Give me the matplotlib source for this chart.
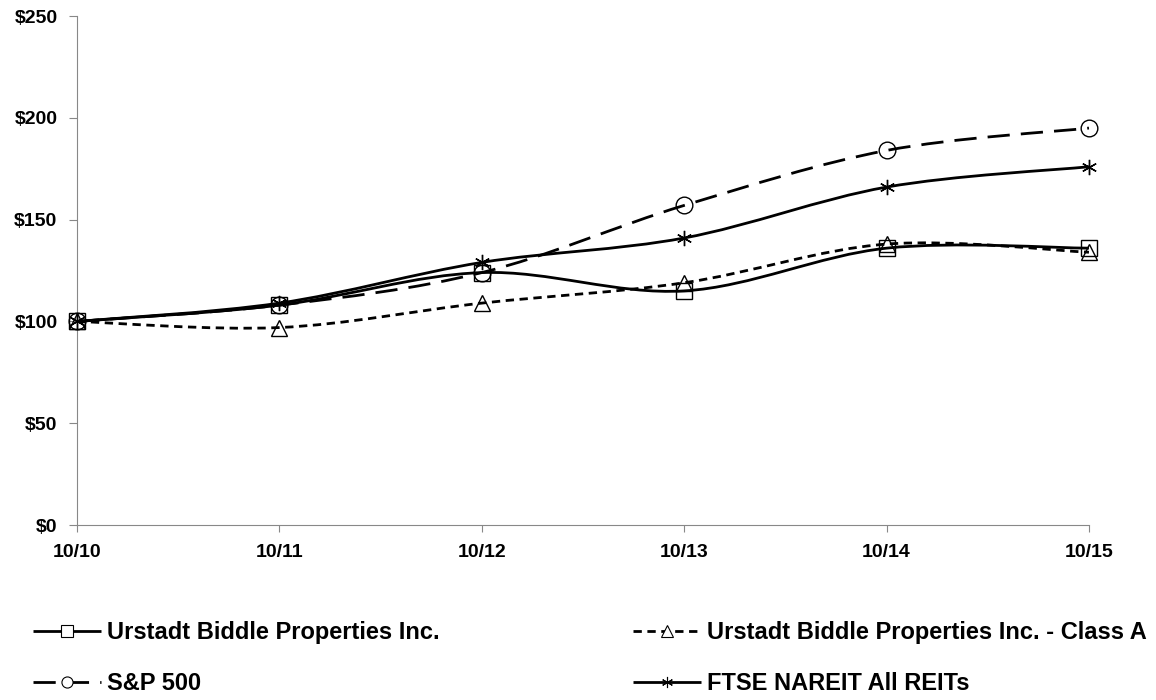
import matplotlib
matplotlib.use("Agg")
import matplotlib.pyplot as plt
from matplotlib.path import Path
from matplotlib.patches import PathPatch
from matplotlib.lines import Line2D
from matplotlib.ticker import FuncFormatter

plt.rcParams['font.family'] = ['Liberation Sans', 'DejaVu Sans']
plt.rcParams['font.weight'] = 'bold'

years = ['10/10', '10/11', '10/12', '10/13', '10/14', '10/15']
ubp = [100, 108, 124, 115, 136, 136]
ubp_a = [100, 97, 109, 119, 138, 134]
sp500 = [100, 108, 124, 157, 184, 195]
ftse = [100, 109, 129, 141, 166, 176]

STAR = (6, 2, 0)
series = [
    ('Urstadt Biddle Properties Inc.', ubp, 's', (0, ()), 11.5),
    ('Urstadt Biddle Properties Inc. - Class A', ubp_a, '^', (0, (3, 2)), 11),
    ('S&P 500', sp500, 'o', (0, (8, 4)), 12),
    ('FTSE NAREIT All REITs', ftse, STAR, (0, ()), 11),
]


def smooth_path(xs, ys):
    # excel-like smoothed line, bezier segments between the points
    pts = list(zip(xs, ys))
    n = len(pts)
    verts = [pts[0]]
    codes = [Path.MOVETO]
    for i in range(n - 1):
        p0 = pts[i - 1] if i > 0 else pts[i]
        p1 = pts[i]
        p2 = pts[i + 1]
        p3 = pts[i + 2] if i + 2 < n else pts[i + 1]
        c1 = (p1[0] + (p2[0] - p0[0]) / 6, p1[1] + (p2[1] - p0[1]) / 6)
        c2 = (p2[0] - (p3[0] - p1[0]) / 6, p2[1] - (p3[1] - p1[1]) / 6)
        verts += [c1, c2, p2]
        codes += [Path.CURVE4] * 3
    return Path(verts, codes)


fig = plt.figure(figsize=(11.56, 7), dpi=100)
ax = fig.add_axes([0.0666, 0.25, 0.8754, 0.727])

x = list(range(len(years)))
handles = []
for name, vals, mk, ls, ms in series:
    patch = PathPatch(smooth_path(x, vals), facecolor='none', edgecolor='black',
                      lw=2, linestyle=ls, zorder=2, clip_on=False)
    ax.add_patch(patch)
    ax.plot(x, vals, linestyle='none', marker=mk, markersize=ms,
            markerfacecolor='none', markeredgecolor='black',
            markeredgewidth=1, zorder=3, clip_on=False)
    handles.append(Line2D([], [], color='black', lw=2, linestyle=ls, marker=mk,
                          markersize=8, markerfacecolor='white',
                          markeredgecolor='black', markeredgewidth=0.8, label=name))

ax.set_xlim(0, len(years) - 1)
ax.set_ylim(0, 250)
ax.set_yticks([0, 50, 100, 150, 200, 250])
ax.yaxis.set_major_formatter(FuncFormatter(lambda v, p: f'${v:.0f}'))
ax.set_xticks(x)
ax.set_xticklabels(years)
ax.tick_params(axis='y', labelsize=14, length=6, color='#888888', pad=8)
ax.tick_params(axis='x', labelsize=14, length=5, color='#888888', pad=9)
for s in ['top', 'right']:
    ax.spines[s].set_visible(False)
for s in ['left', 'bottom']:
    ax.spines[s].set_color('#888888')

order = [handles[0], handles[2], handles[1], handles[3]]
fig.legend(handles=order, labels=[h.get_label() for h in order], ncol=2,
           loc='upper left', bbox_to_anchor=(33 / 1156, 1 - 621 / 700),
           frameon=False, borderpad=0, borderaxespad=0,
           fontsize=17, handlelength=2.9, handletextpad=0.22,
           columnspacing=8.2, labelspacing=1.2)

fig.savefig('out.png', dpi=100)
